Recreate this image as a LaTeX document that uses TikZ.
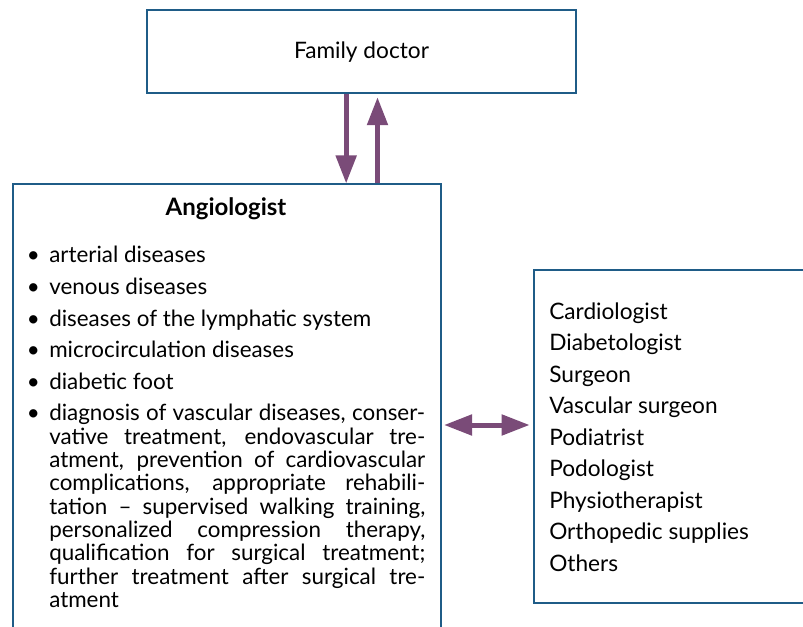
\documentclass[tikz,border=0pt]{standalone}
\usepackage{fontspec}
\setmainfont{Lato}
\usetikzlibrary{arrows.meta}
\definecolor{frameblue}{HTML}{1F5C87}
\definecolor{linkpurple}{HTML}{7A4B78}
\newcommand{\blt}{\llap{\textbullet\hspace{7pt}}}

\begin{document}
\begin{tikzpicture}[x=0.75pt,y=-0.75pt,
    box/.style={draw=frameblue, line width=1.5pt, inner sep=0pt, anchor=north west},
    flow/.style={draw=linkpurple, line width=3.75pt, -{Triangle[length=21pt,width=15pt]}},
    item/.style={anchor=base west, inner sep=0pt, font=\fontsize{16.8}{17.5}\selectfont},
    spec/.style={anchor=base west, inner sep=0pt, font=\fontsize{17}{20}\selectfont}]
      \clip (0,0) rectangle (803,627);
      \node[box, minimum width=321.75pt, minimum height=62.25pt,
            font=\fontsize{17}{20}\selectfont] (doctor) at (146,9.5) {Family doctor};
      \node[box, minimum width=321pt, minimum height=375pt] (angio) at (12,183.5) {};
      \node[box, minimum width=240pt, minimum height=249.75pt] (others) at (533,269) {};
      \node[anchor=base, inner sep=0pt, font=\fontsize{18}{20}\selectfont\bfseries] (title) at (226,216) {Angiologist};
      \node[item] (arterial) at (49,262.7) {\blt arterial diseases};
      \node[item] (venous) at (49,294.3) {\blt venous diseases};
      \node[item] (lymph) at (49,326) {\blt diseases of the lymphatic system};
      \node[item] (micro) at (49,357.3) {\blt microcirculation diseases};
      \node[item] (foot) at (49,389) {\blt diabetic foot};
      \node[item, text width=282pt, align=justify] (tasks) at (49,420.7)
        {\blt diagnosis of vascular diseases, conser-\linebreak
         vative treatment, endovascular tre-\linebreak
         atment, prevention of cardiovascular\linebreak
         complications, appropriate rehabili-\linebreak
         tation -- supervised walking training,\linebreak
         personalized compression therapy,\linebreak
         qualification for surgical treatment;\linebreak
         further treatment after surgical tre-\linebreak
         atment};
      \node[spec] (cardio) at (549,319.3) {Cardiologist};
      \node[spec] (diabeto) at (549,350.8) {Diabetologist};
      \node[spec] (surgeon) at (549,382.3) {Surgeon};
      \node[spec] (vascular) at (549,413.8) {Vascular surgeon};
      \node[spec] (podiatrist) at (549,445.3) {Podiatrist};
      \node[spec] (podologist) at (549,476.8) {Podologist};
      \node[spec] (physio) at (549,508.3) {Physiotherapist};
      \node[spec] (ortho) at (549,539.8) {Orthopedic supplies};
      \node[spec] (rest) at (549,571.3) {Others};
      \coordinate (link) at (0,425);
      \draw[flow] ([xshift=-11.5pt]doctor.south) -- ([xshift=-11.5pt]doctor.south |- angio.north);
      \draw[flow, shorten >=2pt] ([xshift=12pt]doctor.south |- angio.north) -- ([xshift=12pt]doctor.south);
      \draw[flow, {Triangle[length=21pt,width=15pt]}-{Triangle[length=21pt,width=15pt]}, shorten <=1.5pt, shorten >=2.5pt]
        (angio.east |- link) -- (others.west |- link);
\end{tikzpicture}
\end{document}
